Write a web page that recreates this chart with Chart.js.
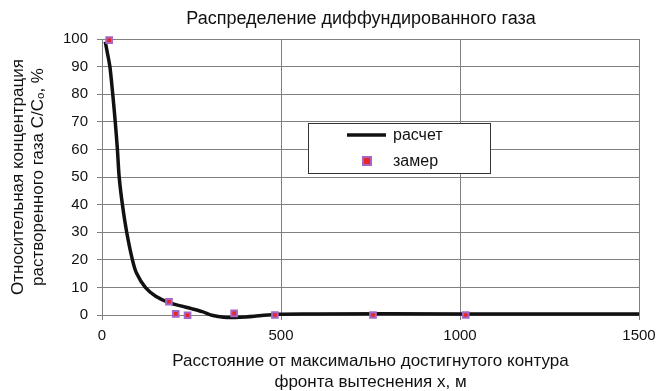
<!DOCTYPE html>
<html><head><meta charset="utf-8">
<script src="https://cdn.jsdelivr.net/npm/chart.js@4.4.1/dist/chart.umd.min.js"></script>
<style>html,body{margin:0;padding:0;background:#fff}#wrap{width:663px;height:391px}</style>
</head><body><div id="wrap"><canvas id="c" width="663" height="391"></canvas></div>
<script>
const chartTitle = 'Распределение диффундированного газа';
const xTitle = ['Расстояние от максимально достигнутого контура', 'фронта вытеснения x, м'];
const yTitle = ['Относительная концентрация', 'растворенного газа C/C\u2092, %'];
const calcLabel = 'расчет';
const measLabel = 'замер';
const calcX = [9, 15, 22, 30, 37, 43, 48, 57, 69, 85, 97, 121, 150, 187, 220, 250, 280, 310, 340, 385, 430, 490, 600, 1000, 1500];
const calcY = [99, 95, 90, 80, 70, 60, 50, 40, 30, 20, 15, 10, 6.8, 4.5, 3.3, 2.3, 1.2, -0.2, -0.8, -0.8, -0.4, 0.3, 0.4, 0.4, 0.4];
const measX = [20, 187, 206, 239, 369, 483, 757, 1016];
const measY = [99.6, 4.8, 0.4, -0.1, 0.6, 0, 0, 0];

const FONT = "'Liberation Sans', Arial, sans-serif";
const titlePlugin = {
  id: 'topTitle',
  afterDraw(chart) {
    const ctx = chart.ctx;
    ctx.save();
    ctx.fillStyle = '#111';
    ctx.font = '18px ' + FONT;
    ctx.textAlign = 'center';
    ctx.textBaseline = 'middle';
    ctx.fillText(chartTitle, 361, 19);
    ctx.restore();
  }
};
const legendPlugin = {
  id: 'boxLegend',
  afterDraw(chart) {
    const ctx = chart.ctx;
    const x0 = 308, y0 = 123, w = 182, h = 50;
    ctx.save();
    ctx.fillStyle = '#fff';
    ctx.fillRect(x0, y0, w, h);
    ctx.strokeStyle = '#333';
    ctx.lineWidth = 1;
    ctx.strokeRect(x0 + 0.5, y0 + 0.5, w, h);
    const d0 = chart.data.datasets[0], d1 = chart.data.datasets[1];
    ctx.strokeStyle = d0.borderColor;
    ctx.lineWidth = d0.borderWidth;
    ctx.beginPath(); ctx.moveTo(347, 135); ctx.lineTo(386, 135); ctx.stroke();
    ctx.fillStyle = d1.backgroundColor;
    ctx.strokeStyle = d1.borderColor;
    ctx.lineWidth = d1.borderWidth;
    ctx.fillRect(363, 157, 8, 8);
    ctx.strokeRect(363, 157, 8, 8);
    ctx.fillStyle = '#111';
    ctx.font = '16px ' + FONT;
    ctx.textBaseline = 'middle';
    ctx.textAlign = 'left';
    ctx.fillText(d0.label, 393, 136);
    ctx.fillText(d1.label, 393, 162);
    ctx.restore();
  }
};

new Chart(document.getElementById('c'), {
  type: 'scatter',
  data: {
    datasets: [
      {
        label: calcLabel,
        data: calcX.map((x, i) => ({x, y: calcY[i]})),
        showLine: true,
        borderColor: '#111',
        borderWidth: 3.5,
        pointRadius: 0,
        tension: 0.3,
        clip: false,
        order: 2
      },
      {
        label: measLabel,
        data: measX.map((x, i) => ({x, y: measY[i]})),
        showLine: false,
        pointStyle: 'rect',
        pointRadius: 4,
        backgroundColor: '#e8262a',
        borderColor: '#a468c4',
        borderWidth: 2,
        clip: false,
        order: 1
      }
    ]
  },
  options: {
    responsive: false,
    animation: false,
    layout: { padding: { top: 39, right: 24, left: 0, bottom: 0 } },
    plugins: {
      legend: { display: false },
      tooltip: { enabled: false },
      title: { display: false }
    },
    scales: {
      x: {
        type: 'linear',
        min: 0, max: 1500,
        afterFit(s) { s.height = 76; },
        ticks: { stepSize: 500, color: '#111', padding: 7, maxRotation: 0, font: { family: FONT, size: 15 },
          callback: v => String(v) },
        grid: { color: '#808080', lineWidth: 1, tickLength: 5 },
        border: { color: '#808080', width: 1 },
        title: {
          display: true,
          text: xTitle,
          color: '#111',
          font: { family: FONT, size: 17, lineHeight: 1.24 },
          padding: { top: 0, bottom: -2 }
        }
      },
      y: {
        min: 0, max: 100,
        afterFit(s) { s.width = 102; },
        ticks: { stepSize: 10, color: '#111', padding: 9, font: { family: FONT, size: 15 } },
        grid: { color: '#808080', lineWidth: 1, tickLength: 5 },
        border: { color: '#808080', width: 1 },
        title: {
          display: true,
          text: yTitle,
          color: '#111',
          font: { family: FONT, size: 17, lineHeight: 1.18 },
          padding: { top: 8, bottom: 0 }
        }
      }
    }
  },
  plugins: [titlePlugin, legendPlugin]
});
</script></body></html>
